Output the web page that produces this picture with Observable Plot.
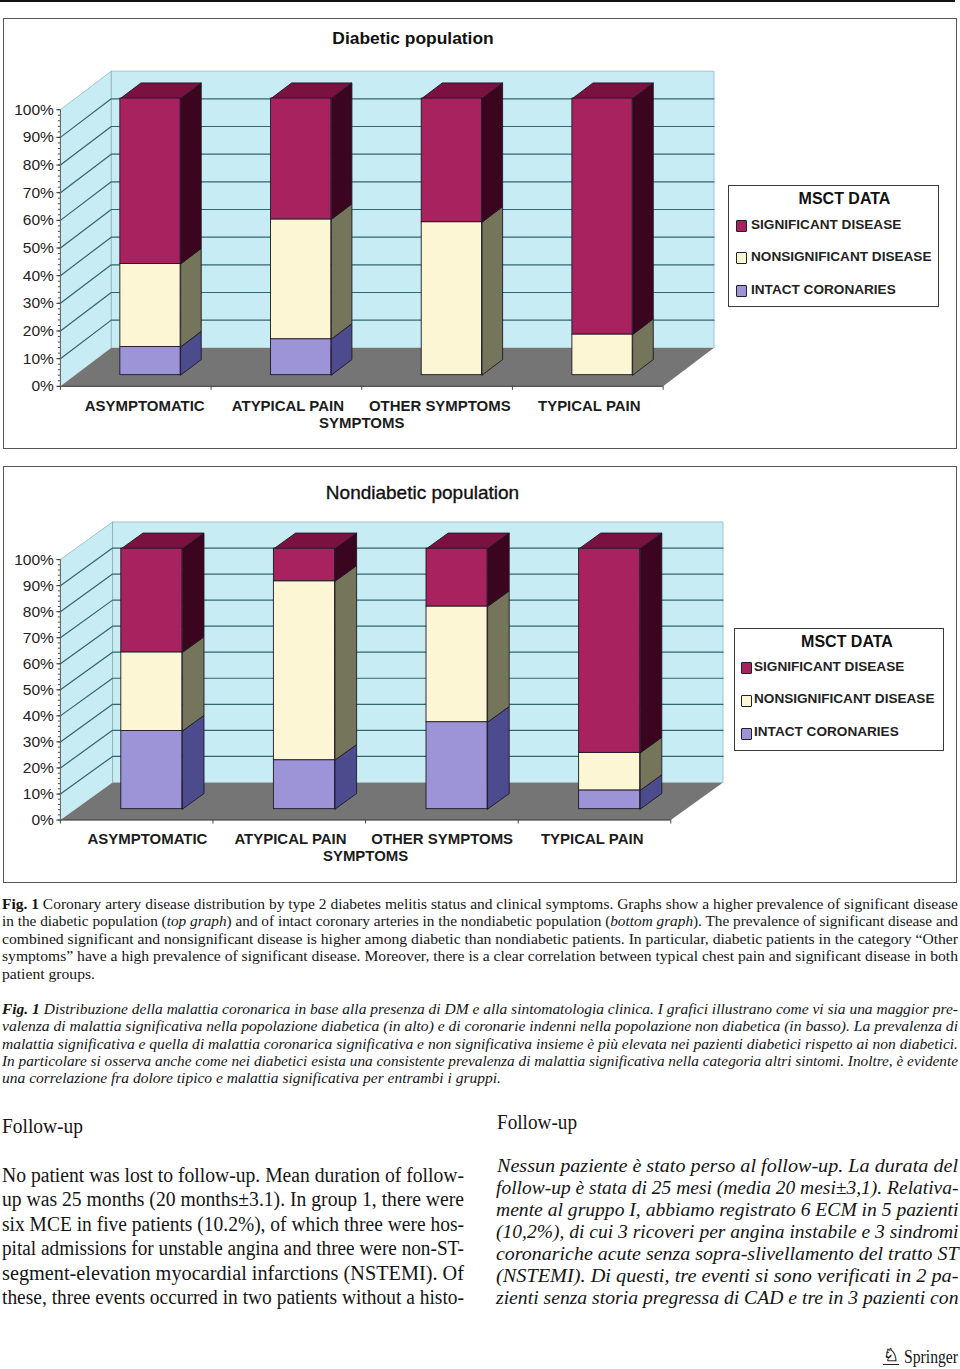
<!DOCTYPE html>
<html>
<head>
<meta charset="utf-8">
<script src="https://cdn.jsdelivr.net/npm/d3@7"></script>
<script src="https://cdn.jsdelivr.net/npm/@observablehq/plot@0.6"></script>
<style>
html,body{margin:0;padding:0;background:#fff;}
#page{position:relative;width:960px;height:1369px;overflow:hidden;font-family:"Liberation Sans",Arial,sans-serif;color:#111;}
.box{position:absolute;box-sizing:border-box;border:1.4px solid #555;background:#fff;}
.box svg{position:absolute;left:-0.6px;top:-0.6px;overflow:visible;}
.title{position:absolute;transform:translate(-50%,-50%);font-weight:bold;font-size:17.4px;white-space:nowrap;}
.legend{position:absolute;box-sizing:border-box;background:#fff;border:1.8px solid #3a3a3a;}
.legend div{position:absolute;white-space:nowrap;font-weight:bold;color:#222;font-size:13.6px;line-height:16px;}
.legend .sw{width:9px;height:10px;border:1px solid #222;border-radius:1px;}
.line{position:absolute;white-space:nowrap;font-family:"Liberation Serif","Times New Roman",serif;transform-origin:0 50%;color:#151515;}
.furn{position:absolute;}
</style>
</head>
<body>
<div id="page"></div>
<script>
// ---- data (percent) ----
const categories = ["ASYMPTOMATIC", "ATYPICAL PAIN", "OTHER SYMPTOMS", "TYPICAL PAIN"];
const series = ["SIGNIFICANT DISEASE", "NONSIGNIFICANT DISEASE", "INTACT CORONARIES"];
const yTicks = [0, 10, 20, 30, 40, 50, 60, 70, 80, 90, 100];

const diabeticIntact      = [10.2, 13.0, 0, 0];
const diabeticNonsig      = [30.0, 43.3, 55.3, 14.7];
const diabeticSignificant = [59.8, 43.7, 44.7, 85.3];

const nondiabeticIntact      = [30.0, 18.8, 33.4, 7.2];
const nondiabeticNonsig      = [30.2, 68.7, 44.4, 14.4];
const nondiabeticSignificant = [39.8, 12.5, 22.2, 78.4];

// ---- text ----
const captionEn = [
  "<b>Fig. 1</b> Coronary artery disease distribution by type 2 diabetes melitis status and clinical symptoms. Graphs show a higher prevalence of significant disease",
  "in the diabetic population (<i>top graph</i>) and of intact coronary arteries in the nondiabetic population (<i>bottom graph</i>). The prevalence of significant disease and",
  "combined significant and nonsignificant disease is higher among diabetic than nondiabetic patients. In particular, diabetic patients in the category “Other",
  "symptoms” have a high prevalence of significant disease. Moreover, there is a clear correlation between typical chest pain and significant disease in both",
  "patient groups."
];
const captionIt = [
  "<b>Fig. 1</b> Distribuzione della malattia coronarica in base alla presenza di DM e alla sintomatologia clinica. I grafici illustrano come vi sia una maggior pre-",
  "valenza di malattia significativa nella popolazione diabetica (in alto) e di coronarie indenni nella popolazione non diabetica (in basso). La prevalenza di",
  "malattia significativa e quella di malattia coronarica significativa e non significativa insieme è più elevata nei pazienti diabetici rispetto ai non diabetici.",
  "In particolare si osserva anche come nei diabetici esista una consistente prevalenza di malattia significativa nella categoria altri sintomi. Inoltre, è evidente",
  "una correlazione fra dolore tipico e malattia significativa per entrambi i gruppi."
];
const bodyEn = [
  "No patient was lost to follow-up. Mean duration of follow-",
  "up was 25 months (20 months±3.1). In group 1, there were",
  "six MCE in five patients (10.2%), of which three were hos-",
  "pital admissions for unstable angina and three were non-ST-",
  "segment-elevation myocardial infarctions (NSTEMI). Of",
  "these, three events occurred in two patients without a histo-"
];
const bodyIt = [
  "Nessun paziente è stato perso al follow-up. La durata del",
  "follow-up è stata di 25 mesi (media 20 mesi±3,1). Relativa-",
  "mente al gruppo I, abbiamo registrato 6 ECM in 5 pazienti",
  "(10,2%), di cui 3 ricoveri per angina instabile e 3 sindromi",
  "coronariche acute senza sopra-slivellamento del tratto ST",
  "(NSTEMI). Di questi, tre eventi si sono verificati in 2 pa-",
  "zienti senza storia pregressa di CAD e tre in 3 pazienti con"
];

// ---- styles ----
const frontColors = ["#a8225f", "#fdf6d4", "#9c94d6"];
const sideColors  = ["#3b0520", "#74755a", "#4c4b8d"];
const topColor = "#7a1141";
const wallColor = "#c8ecf3", floorColor = "#757575", gridColor = "#33656f", edgeColor = "#1e1824";

const page = document.getElementById("page");
function el(cls, css, html, parent) {
  const d = document.createElement("div");
  if (cls) d.className = cls;
  Object.assign(d.style, css);
  if (html != null) d.innerHTML = html;
  (parent || page).appendChild(d);
  return d;
}

function drawChart(cfg) {
  const {intact, nonsig, signif, box, x0, x1, y0, y100, backDx, backDy, z0, z1, barW, labelNudge} = cfg;
  const slot = (x1 - x0) / 4, unit = (y0 - y100) / 100;
  const du = backDx / slot, dv = backDy / unit;     // depth expressed in data units
  const px = (s, z) => s + z * du;
  const py = (v, z) => v + z * dv;
  const poly = (id, color, corners) =>
    [...corners, corners[0]].map(([s, v, z]) => ({id, color, x: px(s, z), y: py(v, z)}));

  // walls and floor
  const planes = [
    ...poly("left", wallColor, [[0,0,0],[0,100,0],[0,100,1],[0,0,1]]),
    ...poly("back", wallColor, [[0,0,1],[0,100,1],[4,100,1],[4,0,1]]),
    ...poly("floor", floorColor, [[0,0,0],[4,0,0],[4,0,1],[0,0,1]])
  ];
  // grid
  const grid = yTicks.filter(t => t > 0 && t < 100).flatMap(t => [[0,0],[0,1],[4,1]].map(([s,z]) => ({t, x: px(s,z), y: py(t,z)})));
  const wallEdge = [[0,100,0],[0,100,1],[4,100,1],[4,0,1]].map(([s,v,z]) => ({x: px(s,z), y: py(v,z)}));
  const backLeftEdge = [[0,0,1],[0,100,1]].map(([s,v,z]) => ({x: px(s,z), y: py(v,z)}));

  // bars
  const rows = [], faces = [];
  categories.forEach((c, i) => {
    const vals = [intact[i], nonsig[i], signif[i]];
    const sIdx = [2, 1, 0];
    const a = i + 0.5 - barW / 2, b = i + 0.5 + barW / 2;
    let acc = 0;
    vals.forEach((v, k) => {
      if (v <= 0) return;
      const lo = acc, hi = acc + v; acc = hi;
      const si = sIdx[k];
      rows.push({category: c, series: series[si], fill: frontColors[si],
                 x1: px(a, z0), x2: px(b, z0), y1: py(lo, z0), y2: py(hi, z0)});
      faces.push(...poly(`${i}-${si}-s`, sideColors[si], [[b,lo,z0],[b,hi,z0],[b,hi,z1],[b,lo,z1]]));
    });
    faces.push(...poly(`${i}-top`, topColor, [[a,acc,z0],[b,acc,z0],[b,acc,z1],[a,acc,z1]]));
  });

  const labelMarks = categories.map((c, i) => Plot.text([c], {
    x: () => i + 0.5, y: () => 0, text: d => d, dx: labelNudge[i], dy: 19.5,
    fontFamily: "Liberation Sans", fontWeight: "bold", fontSize: 15, fill: "#1c1c1c", textAnchor: "middle"
  }));

  const wrap = el("box", {left: box.x + "px", top: box.y + "px", width: box.w + "px", height: box.h + "px"});
  const plot = Plot.plot({
    width: box.w, height: box.h,
    marginLeft: x0 - box.x, marginRight: box.w - (x1 - box.x),
    marginTop: y100 - box.y, marginBottom: box.h - (y0 - box.y),
    style: {fontFamily: "Liberation Sans", background: "transparent", overflow: "visible"},
    x: {domain: [0, 4]},
    y: {domain: [0, 100]},
    marks: [
      Plot.line(planes, {x: "x", y: "y", z: "id", fill: "color", stroke: "none"}),
      Plot.line(wallEdge, {x: "x", y: "y", stroke: "#9fc4cb", strokeWidth: 1}),
      Plot.line(backLeftEdge, {x: "x", y: "y", stroke: "#7fa3aa", strokeWidth: 0.8}),
      Plot.line(grid, {x: "x", y: "y", z: "t", stroke: gridColor, strokeWidth: 1.2}),
      Plot.line(faces, {x: "x", y: "y", z: "id", fill: "color", stroke: edgeColor, strokeWidth: 0.9}),
      Plot.rect(rows, {x1: "x1", x2: "x2", y1: "y1", y2: "y2", fill: "fill", stroke: edgeColor, strokeWidth: 0.9}),
      Plot.ruleX([0], {y1: 0, y2: 100, stroke: "#555", strokeWidth: 1}),
      Plot.ruleY([0], {x1: 0, x2: 4, stroke: "#333", strokeWidth: 1}),
      Plot.axisY({ticks: d3.range(0, 101, 2), tickFormat: () => "", tickSize: 2, stroke: "#444", label: null}),
      Plot.axisY({ticks: yTicks, tickFormat: d => d + "%", tickSize: 3.5, tickPadding: 3, stroke: "#333",
                  fontSize: 15.6, fill: "#222", label: null}),
      Plot.axisX({ticks: [0, 1, 2, 3, 4], tickFormat: () => "", tickSize: 4, stroke: "#444", label: null}),
      ...labelMarks,
      Plot.text(["SYMPTOMS"], {x: () => 2, y: () => 0, text: d => d, dy: 36.5,
        fontFamily: "Liberation Sans", fontWeight: "bold", fontSize: 15, fill: "#1c1c1c", textAnchor: "middle"})
    ]
  });
  wrap.appendChild(plot);

  // title
  el("title", Object.assign({left: cfg.titleX - box.x + "px", top: cfg.titleY - box.y + "px"}, cfg.titleCss || {}), cfg.title, wrap);

  // legend
  const L = cfg.legend;
  const lg = el("legend", {left: L.x + "px", top: L.y + "px", width: L.w + "px", height: L.h + "px"});
  el("", {left: "50%", top: L.titleTop + "px", marginLeft: L.titleShift + "px", transform: "translateX(-50%)", fontSize: "16px", lineHeight: "20px", color: "#111"}, "MSCT DATA", lg);
  series.forEach((s, i) => {
    el("sw", {left: L.swX + "px", top: L.swY[i] + "px", background: frontColors[i]}, "", lg);
    el("", {left: L.txtX + "px", top: L.txtY[i] + "px"}, s, lg);
  });
}

drawChart({
  intact: diabeticIntact, nonsig: diabeticNonsig, signif: diabeticSignificant,
  title: "Diabetic population", titleX: 412, titleY: 37.2,
  box: {x: 3, y: 18, w: 954, h: 431},
  x0: 60, x1: 664, y0: 386.6, y100: 109.4, backDx: 51, backDy: 38.6, z0: 0.29, z1: 0.695, barW: 0.4,
  labelNudge: [9, 1.5, 2.7, 1.5],
  legend: {x: 728, y: 185, w: 211, h: 122, titleTop: 3, titleShift: 11, swX: 7, swY: [34, 66, 99], txtX: 22, txtY: [31, 63, 96]}
});
drawChart({
  intact: nondiabeticIntact, nonsig: nondiabeticNonsig, signif: nondiabeticSignificant,
  title: "Nondiabetic population", titleX: 421.5, titleY: 492.2, titleCss: {fontWeight: "normal", fontSize: "19px", WebkitTextStroke: "0.35px #111"},
  box: {x: 3, y: 466, w: 954, h: 417},
  x0: 60, x1: 671.7, y0: 820.3, y100: 559.3, backDx: 52.3, backDy: 37.7, z0: 0.29, z1: 0.705, barW: 0.4,
  labelNudge: [10.8, 1.2, 0.3, -2.3],
  legend: {x: 734, y: 628, w: 210, h: 123, titleTop: 3, titleShift: 8, swX: 6, swY: [33, 66, 99], txtX: 19, txtY: [30, 62, 95]}
});

// ---- running text: every line is fitted to its measured width ----
const fits = [];
function textLine(html, x, y, w, size, italic) {
  const d = el("line", {left: x + "px", top: (y - size * 0.6) + "px", fontSize: size + "px", lineHeight: (size * 1.2) + "px", fontStyle: italic ? "italic" : "normal"}, html);
  fits.push([d, w]);
}
captionEn.forEach((s, i) => textLine(s, 2, 903.5 + i * 17.5, i === 4 ? 93 : 956, 15, false));
captionIt.forEach((s, i) => textLine(s, 2, 1009 + i * 17.25, i === 4 ? 499 : 956, 15, true));
textLine("Follow-up", 2, 1126, 81, 20.5, false);
bodyEn.forEach((s, i) => textLine(s, 2, 1175 + i * 24.5, 462, 20.5, false));
textLine("Follow-up", 497, 1122, 80, 20.5, false);
bodyIt.forEach((s, i) => textLine(s, i === 0 ? 497 : 495.5, 1166 + i * 22, i === 0 ? 461 : 462.5, 19.5, true));
textLine("Springer", 904, 1357, 54, 19, false);
fits.forEach(([d, w]) => { const m = d.getBoundingClientRect().width; d.style.transform = `scaleX(${w / m})`; });

// page furniture
el("furn", {left: 0, top: 0, width: "955px", height: "2.4px", background: "#111"});
el("furn", {left: "883px", top: "1345px", fontFamily: "DejaVu Sans", fontSize: "18px", lineHeight: "19px", borderBottom: "1.5px solid #222", color: "#111", WebkitTextStroke: "0.4px #111"}, "♘");
</script>
</body>
</html>
